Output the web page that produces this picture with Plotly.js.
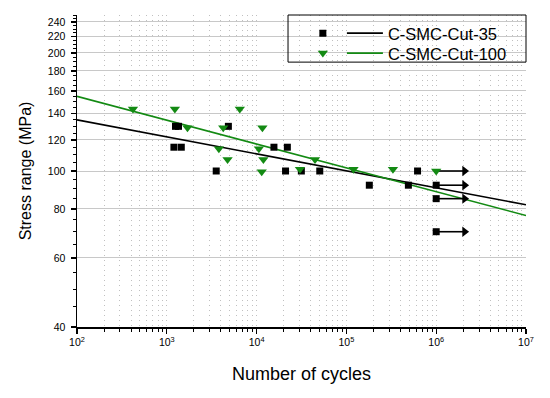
<!DOCTYPE html>
<html><head><meta charset="utf-8">
<script src="https://cdn.plot.ly/plotly-3.0.1.min.js"></script>
<style>html,body{margin:0;padding:0;background:#fff}</style>
</head><body>
<div id="chart" style="width:550px;height:398px"></div>
<script>
// ---- data ----
const cut35Cycles = [1250, 1350, 1200, 1450, 4850, 3550, 15600, 22000, 21000, 31500, 50500, 180000, 490000, 620000, 1000000, 1000000, 1000000];
const cut35Stress = [130, 130, 115, 115, 130, 100, 115, 115, 100, 100, 100, 92, 92, 100, 92, 85, 70];
const cut100Cycles = [420, 1230, 6500, 1700, 4250, 11600, 3800, 10600, 4750, 11900, 11400, 30400, 44700, 120000, 330000, 1000000];
const cut100Stress = [144, 144, 144, 129, 129, 129, 114, 114, 107, 107, 99.5, 101, 107, 101, 101, 100];
const fitCycles = [100, 10000000];
const fit35Stress = [135, 82];
const fit100Stress = [155, 77];
const runoutCycles = 1000000;
const runoutHeadCycles = 2070000;
const runoutStress = [100, 92, 85, 70];
const seriesNames = ['C-SMC-Cut-35', 'C-SMC-Cut-100'];
const yTickVals = [40, 60, 80, 100, 120, 140, 160, 180, 200, 220, 240];
const xTickVals = [1e2, 1e3, 1e4, 1e5, 1e6, 1e7];
const xTickText = ['10<sup>2</sup>', '10<sup>3</sup>', '10<sup>4</sup>', '10<sup>5</sup>', '10<sup>6</sup>', '10<sup>7</sup>'];

// minor tick positions
const xMinor = [];
for (let d = 2; d <= 6; d++) for (let k = 2; k <= 9; k++) xMinor.push(k * Math.pow(10, d));
const yMinor = [];
for (let v = 45; v <= 250; v += 5) if (v % 20 !== 0) yMinor.push(v);

const BLACK = '#000000', GREEN = '#138a13';
const FONT = 'Liberation Sans, Arial, sans-serif';

// run-out arrows built from the run-out arrays
const shaftX = [], shaftY = [];
runoutStress.forEach(s => { shaftX.push(runoutCycles, runoutHeadCycles, null); shaftY.push(s, s, null); });

const traces = [
  {x: fitCycles, y: fit35Stress, mode: 'lines', name: seriesNames[0], line: {color: BLACK, width: 1.6}, legend: 'legend2'},
  {x: fitCycles, y: fit100Stress, mode: 'lines', name: seriesNames[1], line: {color: GREEN, width: 1.6}, legend: 'legend4'},
  {x: shaftX, y: shaftY, mode: 'lines', line: {color: BLACK, width: 1.6}, showlegend: false, hoverinfo: 'skip'},
  {x: runoutStress.map(() => runoutHeadCycles), y: runoutStress, mode: 'markers', showlegend: false, hoverinfo: 'skip',
   marker: {symbol: 'triangle-right', size: 9, color: BLACK}},
  {x: cut35Cycles, y: cut35Stress, mode: 'markers', name: '\u00a0', marker: {symbol: 'square', size: 7, color: BLACK}, legend: 'legend'},
  {x: cut100Cycles, y: cut100Stress, mode: 'markers', name: '\u00a0', marker: {symbol: 'triangle-down', size: 9, color: GREEN}, legend: 'legend3'}
];

const legBase = {bgcolor: 'rgba(0,0,0,0)', borderwidth: 0, font: {family: FONT, size: 16.5, color: '#000'}, xanchor: 'left', yanchor: 'middle'};

const layout = {
  width: 550, height: 398,
  margin: {l: 77, r: 24, t: 15, b: 71, pad: 0},
  paper_bgcolor: '#fff', plot_bgcolor: '#fff',
  font: {family: FONT, color: '#000'},
  showlegend: true,
  legend: Object.assign({}, legBase, {x: 0.503, y: 0.941, itemwidth: 30}),
  legend2: Object.assign({}, legBase, {x: 0.590, y: 0.941, itemwidth: 36}),
  legend3: Object.assign({}, legBase, {x: 0.503, y: 0.877, itemwidth: 30}),
  legend4: Object.assign({}, legBase, {x: 0.590, y: 0.877, itemwidth: 36}),
  xaxis: {
    type: 'log', range: [2, 7], tickmode: 'array', tickvals: xTickVals, ticktext: xTickText,
    ticks: 'outside', ticklen: 5, tickwidth: 1.2, tickcolor: '#000',
    showline: true, linecolor: '#000', linewidth: 1.5, zeroline: false,
    showgrid: true, gridcolor: '#c0c0c0', gridwidth: 1, griddash: '1px,4px',
    tickfont: {family: FONT, size: 10.5, color: '#000'},
    minor: {tickmode: 'array', tickvals: xMinor, ticks: 'outside', ticklen: 3, tickwidth: 1, tickcolor: '#000',
            showgrid: true, gridcolor: '#c0c0c0', gridwidth: 1, griddash: '1px,4px'},
    title: {text: 'Number of cycles', font: {family: FONT, size: 18, color: '#000'}, standoff: 20},
    automargin: false
  },
  yaxis: {
    type: 'log', range: [Math.log10(40), Math.log10(250)], tickmode: 'array', tickvals: yTickVals,
    ticktext: yTickVals.map(String),
    ticks: 'outside', ticklen: 5, tickwidth: 1.2, tickcolor: '#000', ticklabelstandoff: 3,
    showline: true, linecolor: '#000', linewidth: 1.5, zeroline: false,
    showgrid: true, gridcolor: '#c8c8c8', gridwidth: 1,
    tickfont: {family: FONT, size: 10.5, color: '#000'},
    minor: {tickmode: 'array', tickvals: yMinor, ticks: 'outside', ticklen: 3, tickwidth: 1, tickcolor: '#000', showgrid: false},
    title: {text: 'Stress range (MPa)', font: {family: FONT, size: 16, color: '#000'}, standoff: 12},
    automargin: false
  },
  xaxis2: {
    type: 'log', range: [2, 7], overlaying: 'x', side: 'top', anchor: 'y',
    tickmode: 'array', tickvals: xTickVals, showticklabels: false,
    ticks: 'inside', ticklen: 5, tickwidth: 1.2, tickcolor: '#000',
    showline: true, linecolor: '#000', linewidth: 1.5, showgrid: false, zeroline: false,
    minor: {tickmode: 'array', tickvals: xMinor, ticks: 'inside', ticklen: 3, tickwidth: 1, tickcolor: '#000', showgrid: false}
  },
  yaxis2: {
    type: 'log', range: [Math.log10(40), Math.log10(250)], overlaying: 'y', side: 'right', anchor: 'x',
    tickmode: 'array', tickvals: yTickVals, showticklabels: false,
    ticks: 'inside', ticklen: 5, tickwidth: 1.2, tickcolor: '#000',
    showline: true, linecolor: '#000', linewidth: 1.5, showgrid: false, zeroline: false,
    minor: {tickmode: 'array', tickvals: yMinor, ticks: 'inside', ticklen: 3, tickwidth: 1, tickcolor: '#000', showgrid: false}
  },
  shapes: [{type: 'rect', xref: 'paper', yref: 'paper', x0: 0.47, x1: 1.0, y0: 0.849, y1: 1.0,
            line: {color: '#000', width: 1}, fillcolor: 'rgba(0,0,0,0)', layer: 'above'}]
};

Plotly.newPlot('chart', traces, layout, {displayModeBar: false, staticPlot: true});
</script>
</body></html>
